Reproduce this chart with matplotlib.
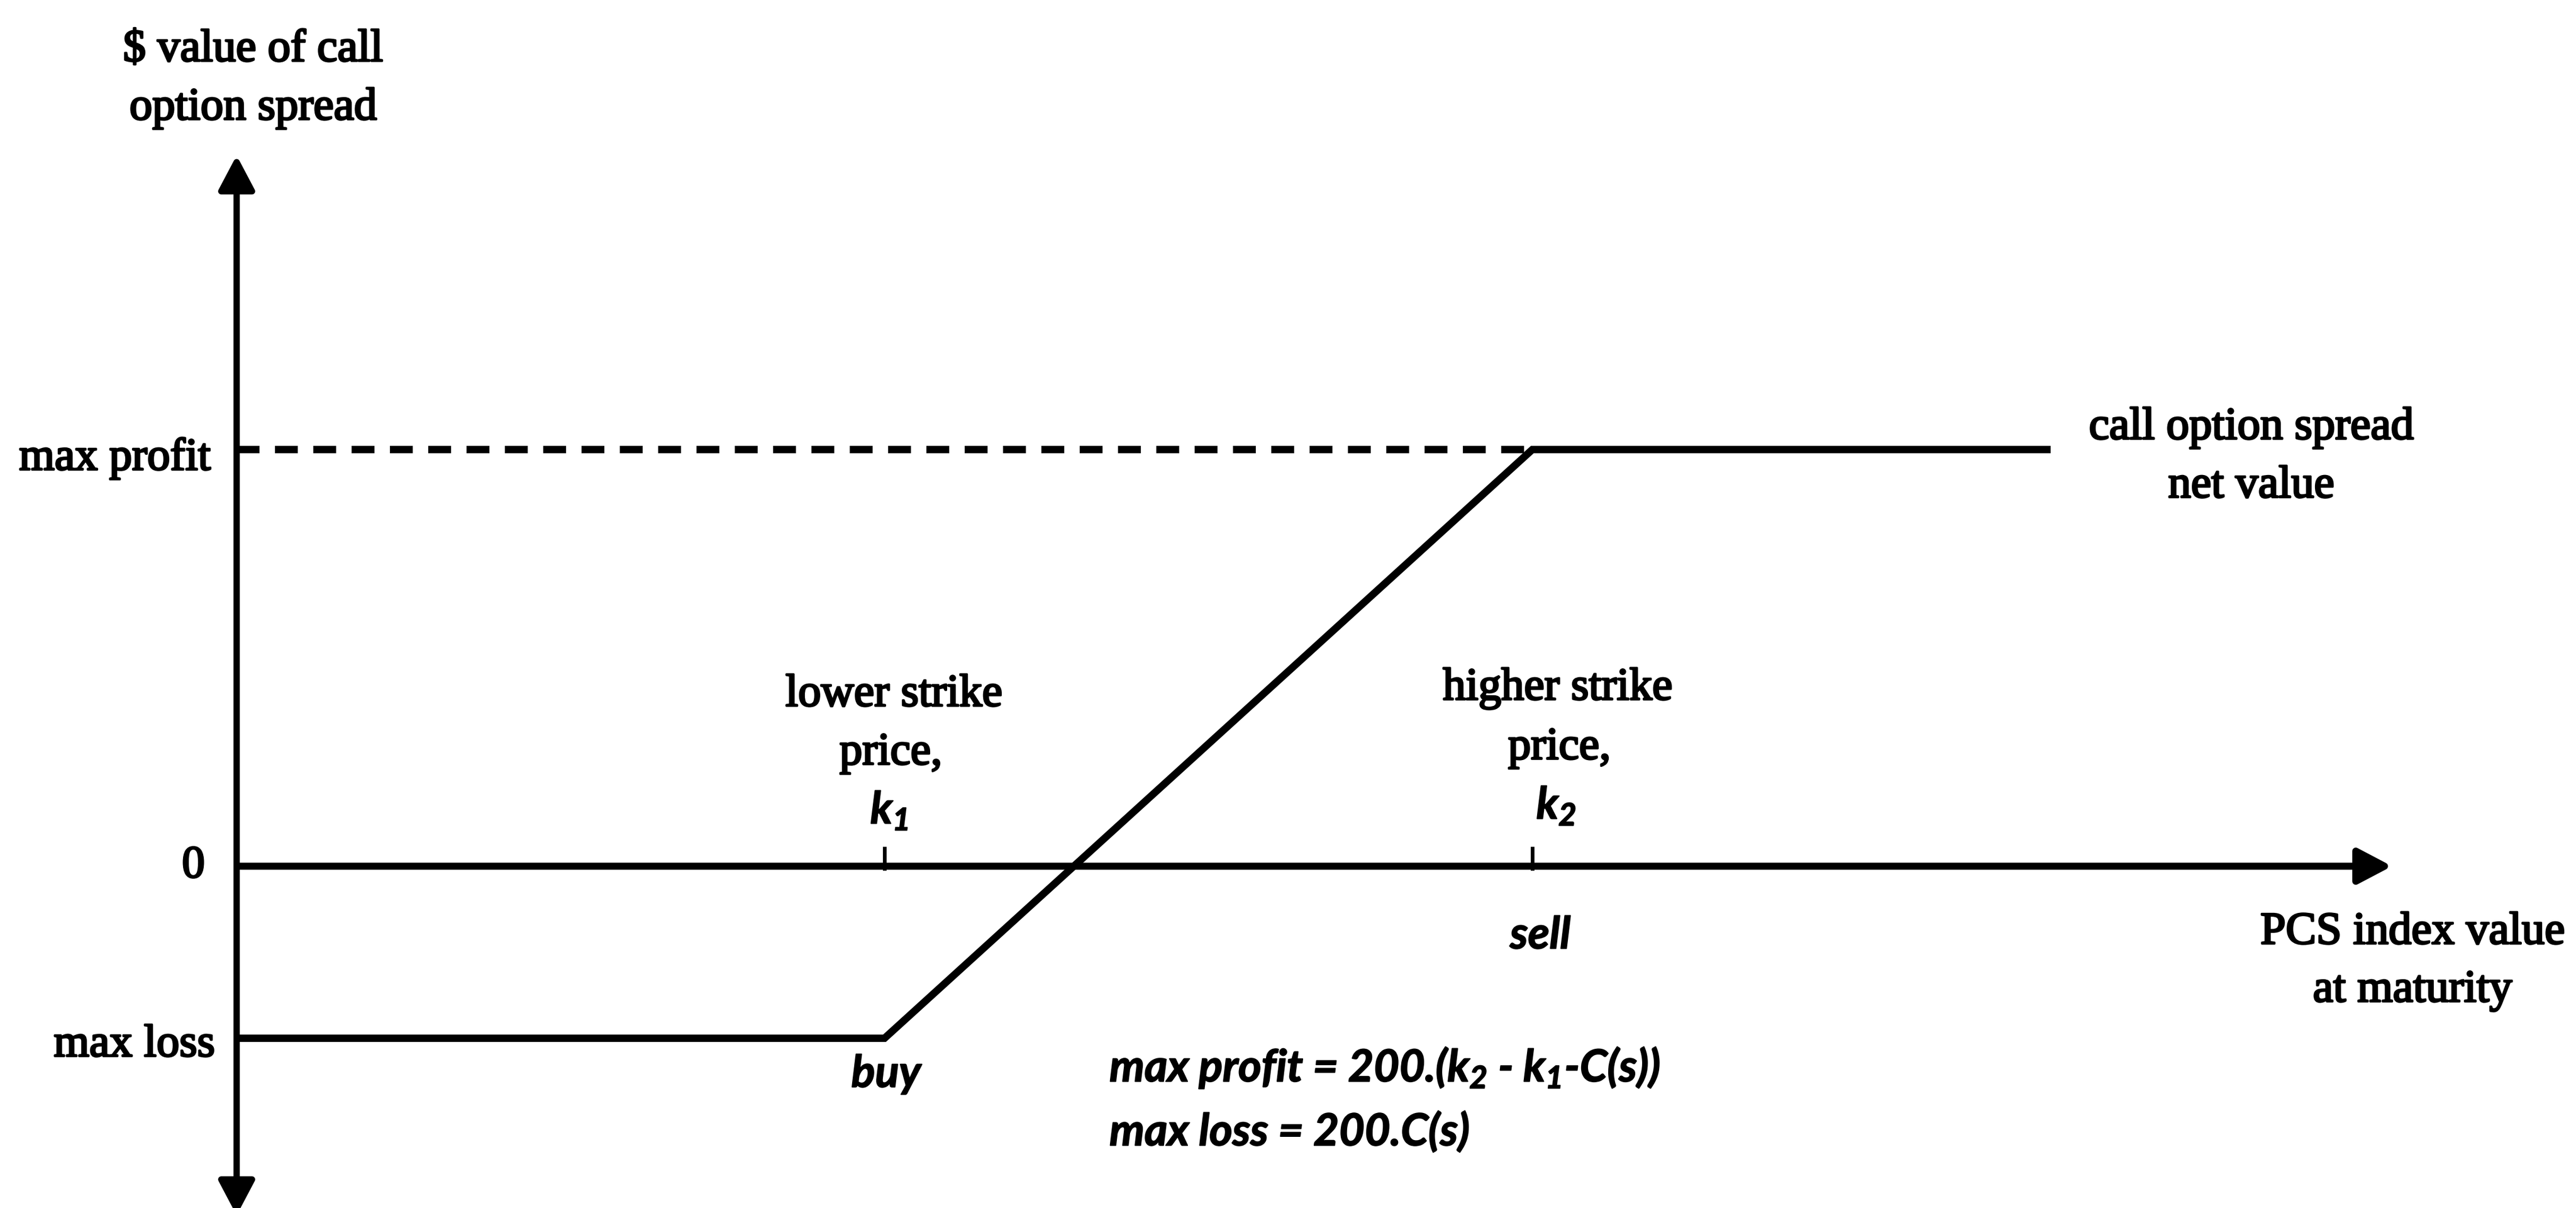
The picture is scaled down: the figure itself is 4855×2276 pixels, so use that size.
import matplotlib
matplotlib.use("Agg")
import matplotlib.pyplot as plt
from matplotlib.patches import FancyArrowPatch
import matplotlib.patheffects as pe

# ---------------- data (conceptual units: k1 = 1, k2 = 2, max profit = 1) ----------------
payoff_x = [0.0, 1.0, 2.0, 2.80]
payoff_y = [-0.413, -0.413, 1.0, 1.0]
strike_x = [1.0, 2.0]
strike_names = [["lower strike", "price,"], ["higher strike", "price,"]]
strike_symbols = [r"$k_1$", r"$k_2$"]
strike_actions = ["buy", "sell"]
max_profit = 1.0
max_loss = -0.413
level_labels = ["max profit", "0", "max loss"]
y_label_lines = ["$ value of call", "option spread"]
x_label_lines = ["PCS index value", "at maturity"]
series_label_lines = ["call option spread", "net value"]
formula_lines = [r"max profit = 200.($k_2$ - $k_1$-C(s))", "max loss = 200.C(s)"]
x_axis_end = 3.327
y_axis_top = 1.706
y_axis_bottom = -0.838

# ---------------- styling ----------------
W, H, DPI = 4855, 2276, 100
SERIF = ["Liberation Serif", "DejaVu Serif"]
ITAL = ["Lato", "Liberation Sans", "DejaVu Sans"]
plt.rcParams["font.family"] = SERIF
plt.rcParams["mathtext.fontset"] = "custom"
plt.rcParams["mathtext.it"] = "Lato:italic:bold"
plt.rcParams["mathtext.rm"] = "Lato:italic:bold"
plt.rcParams["mathtext.default"] = "it"

SERIF_FS = 62
ITAL_FS = 60
HEAVY = [pe.withStroke(linewidth=2.6, foreground="black")]
HEAVY_I = [pe.withStroke(linewidth=1.5, foreground="black")]

fig = plt.figure(figsize=(W / DPI, H / DPI), dpi=DPI)
fig.patch.set_facecolor("white")
ax = fig.add_axes([0, 0, 1, 1])
ax.set_xlim(-446 / 1221, (W - 446) / 1221)
ax.set_ylim((1632 - H) / 785, 1632 / 785)
ax.axis("off")


def ptext(px, py, s, **kw):
    fig.text(px / W, 1 - py / H, s, **kw)


# axes with arrows
yax = FancyArrowPatch((0, y_axis_bottom), (0, y_axis_top),
                      arrowstyle="<|-|>,head_length=39.6,head_width=20.9",
                      mutation_scale=1, lw=8.5, color="black",
                      shrinkA=0, shrinkB=0, joinstyle="round", capstyle="butt")
ax.add_patch(yax)
xax = FancyArrowPatch((0, 0), (x_axis_end, 0),
                      arrowstyle="-|>,head_length=39,head_width=20.5",
                      mutation_scale=1, lw=9.5, color="black",
                      shrinkA=0, shrinkB=0, joinstyle="round", capstyle="butt")
ax.add_patch(xax)

# dashed max-profit guide
ax.plot([0, strike_x[1]], [max_profit, max_profit], color="black", lw=10,
        dashes=(3.1, 2.1), solid_capstyle="butt", dash_capstyle="butt")

# strike ticks
ax.vlines(strike_x, -0.01, 0.047, color="black", lw=5)

# payoff line
ax.plot(payoff_x, payoff_y, color="black", lw=10, solid_joinstyle="miter",
        solid_capstyle="butt")

# ---------------- text ----------------
skw = dict(fontsize=SERIF_FS, family=SERIF, va="baseline", color="black",
           path_effects=HEAVY)
ikw = dict(fontsize=ITAL_FS, family=ITAL, style="italic", weight="bold",
           va="baseline", color="black", path_effects=HEAVY_I)

# y-axis title
ptext(477, 115, y_label_lines[0], ha="center", **skw)
ptext(477, 225, y_label_lines[1], ha="center", **skw)

# level labels
ptext(397, 885, level_labels[0], ha="right", **skw)
ptext(386, 1653, level_labels[1], ha="right", **skw)
ptext(405, 1990, level_labels[2], ha="right", **skw)

# strike labels
ptext(1685, 1330, strike_names[0][0], ha="center", **skw)
ptext(1679, 1440, strike_names[0][1], ha="center", **skw)
ptext(1676, 1552, strike_symbols[0], ha="center", **ikw)
ptext(2936, 1318, strike_names[1][0], ha="center", **skw)
ptext(2939, 1430, strike_names[1][1], ha="center", **skw)
ptext(2933, 1543, strike_symbols[1], ha="center", **ikw)

# actions
ptext(1670, 2048, strike_actions[0], ha="center", **ikw)
ptext(2903, 1787, strike_actions[1], ha="center", **ikw)

# series label
ptext(4243, 827, series_label_lines[0], ha="center", **skw)
ptext(4243, 937, series_label_lines[1], ha="center", **skw)

# x-axis title
ptext(4547, 1778, x_label_lines[0], ha="center", **skw)
ptext(4547, 1887, x_label_lines[1], ha="center", **skw)

# formulas
ptext(2091, 2038, formula_lines[0], ha="left", **ikw)
ptext(2091, 2158, formula_lines[1], ha="left", **ikw)

fig.savefig("out.png", dpi=DPI, facecolor="white")
